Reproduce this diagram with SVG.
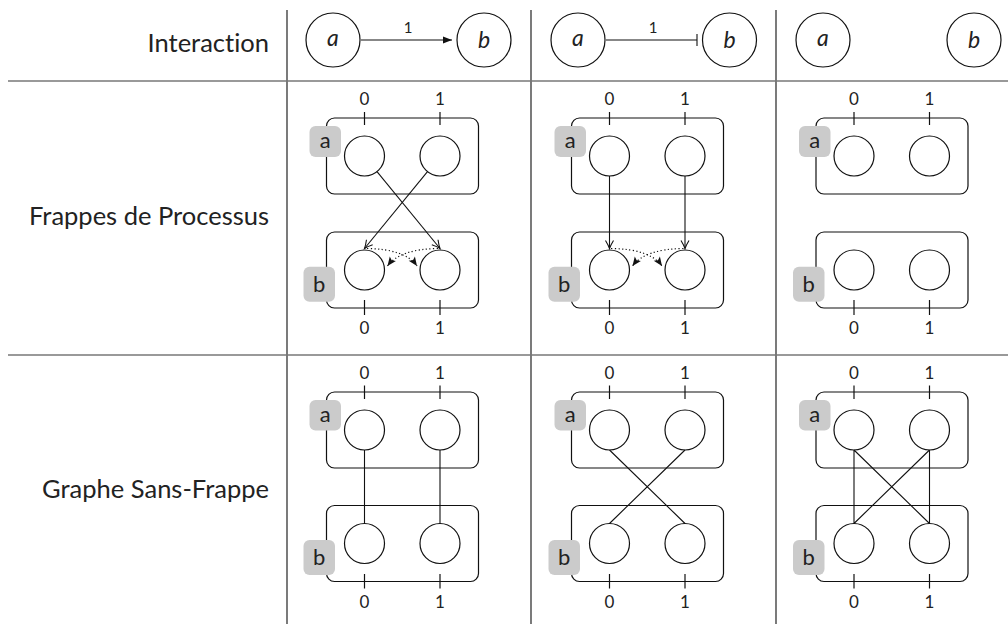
<svg xmlns="http://www.w3.org/2000/svg" width="1008" height="624" viewBox="0 0 1008 624">
<defs>
<style>
.t{font-family:Lato,"DejaVu Sans",sans-serif;fill:#222;font-variant-ligatures:none}
.row{font-size:25.5px;text-anchor:end}
.dig{font-size:17px;text-anchor:middle}
.lab{font-size:22px;text-anchor:middle}
.it{font-size:23px;font-style:italic;text-anchor:middle}
.one{font-size:15px;text-anchor:middle}
.box{fill:none;stroke:#111;stroke-width:1.2}
.st{fill:#fff;stroke:#111;stroke-width:1.2}
.gl{fill:#cbcbcb}
.tk{stroke:#111;stroke-width:1.2}
.e{fill:none;stroke:#111;stroke-width:1.1}
.d{fill:none;stroke:#111;stroke-width:1.2;stroke-dasharray:1.2 2.4}
.vr{stroke:#333;stroke-width:1.3}
.hr{stroke:#777;stroke-width:1.6}
</style>
<marker id="open" markerUnits="userSpaceOnUse" markerWidth="12" markerHeight="12" viewBox="-9 -6 10 12" refX="0" refY="0" orient="auto">
<path d="M-8,-4 Q-3,-1 0,0 Q-3,1 -8,4" fill="none" stroke="#111" stroke-width="1.1"/>
</marker>
<marker id="fill" markerUnits="userSpaceOnUse" markerWidth="12" markerHeight="12" viewBox="-10 -6 11 12" refX="0" refY="0" orient="auto">
<path d="M0,0 L-9,-3.8 L-7,0 L-9,3.8 Z" fill="#111"/>
</marker>
<marker id="tri" markerUnits="userSpaceOnUse" markerWidth="12" markerHeight="12" viewBox="-10 -6 11 12" refX="0" refY="0" orient="auto">
<path d="M0,0 L-9,-3.5 L-9,3.5 Z" fill="#111"/>
</marker>
</defs>
<g id="table">
<line class="vr" x1="287" y1="10" x2="287" y2="624"/>
<line class="vr" x1="531" y1="10" x2="531" y2="624"/>
<line class="vr" x1="776" y1="10" x2="776" y2="624"/>
<line class="hr" x1="8" y1="81" x2="1008" y2="81"/>
<line class="hr" x1="8" y1="355" x2="1008" y2="355"/>
<text class="t row" x="269" y="52">Interaction</text>
<text class="t row" x="269" y="225">Frappes de Processus</text>
<text class="t row" x="269" y="498">Graphe Sans-Frappe</text>
</g>
<g id="header-nodes">
<g id="h1a"><circle class="st" cx="333" cy="40" r="27"/><text class="t it" x="333" y="46">a</text></g>
<g id="h1b"><circle class="st" cx="484" cy="40" r="27"/><text class="t it" x="484" y="48">b</text></g>
<g id="h2a"><circle class="st" cx="578" cy="40" r="27"/><text class="t it" x="578" y="46">a</text></g>
<g id="h2b"><circle class="st" cx="729.5" cy="40" r="27"/><text class="t it" x="729.5" y="48">b</text></g>
<g id="h3a"><circle class="st" cx="823" cy="40" r="27"/><text class="t it" x="823" y="46">a</text></g>
<g id="h3b"><circle class="st" cx="974" cy="40" r="27"/><text class="t it" x="974" y="48">b</text></g>
</g>
<g id="cells">
<g id="fp1">
<text class="t dig" x="364.5" y="104.5">0</text><text class="t dig" x="440" y="104.5">1</text>
<line class="tk" x1="364.5" y1="112" x2="364.5" y2="125"/><line class="tk" x1="440" y1="112" x2="440" y2="125"/>
<rect class="box" x="326.5" y="118" width="152" height="76" rx="8"/>
<circle class="st" cx="364.5" cy="156" r="20"/><circle class="st" cx="440" cy="156" r="20"/>
<rect class="gl" x="309.5" y="126" width="31.5" height="31" rx="6"/><text class="t lab" x="325.2" y="148">a</text>
<rect class="box" x="326.5" y="232" width="152" height="76" rx="8"/>
<circle class="st" cx="364.5" cy="270" r="20"/><circle class="st" cx="440" cy="270" r="20"/>
<rect class="gl" x="303.5" y="266.7" width="31.5" height="35" rx="6"/><text class="t lab" x="319.2" y="291.5">b</text>
<line class="tk" x1="364.5" y1="300" x2="364.5" y2="315"/><line class="tk" x1="440" y1="300" x2="440" y2="315"/>
<text class="t dig" x="364.5" y="333.5">0</text><text class="t dig" x="440" y="333.5">1</text>
</g>
<g id="fp2">
<text class="t dig" x="609.5" y="104.5">0</text><text class="t dig" x="685" y="104.5">1</text>
<line class="tk" x1="609.5" y1="112" x2="609.5" y2="125"/><line class="tk" x1="685" y1="112" x2="685" y2="125"/>
<rect class="box" x="571.5" y="118" width="152" height="76" rx="8"/>
<circle class="st" cx="609.5" cy="156" r="20"/><circle class="st" cx="685" cy="156" r="20"/>
<rect class="gl" x="554.5" y="126" width="31.5" height="31" rx="6"/><text class="t lab" x="570.2" y="148">a</text>
<rect class="box" x="571.5" y="232" width="152" height="76" rx="8"/>
<circle class="st" cx="609.5" cy="270" r="20"/><circle class="st" cx="685" cy="270" r="20"/>
<rect class="gl" x="548.5" y="266.7" width="31.5" height="35" rx="6"/><text class="t lab" x="564.2" y="291.5">b</text>
<line class="tk" x1="609.5" y1="300" x2="609.5" y2="315"/><line class="tk" x1="685" y1="300" x2="685" y2="315"/>
<text class="t dig" x="609.5" y="333.5">0</text><text class="t dig" x="685" y="333.5">1</text>
</g>
<g id="fp3">
<text class="t dig" x="854" y="104.5">0</text><text class="t dig" x="929.5" y="104.5">1</text>
<line class="tk" x1="854" y1="112" x2="854" y2="125"/><line class="tk" x1="929.5" y1="112" x2="929.5" y2="125"/>
<rect class="box" x="816" y="118" width="152" height="76" rx="8"/>
<circle class="st" cx="854" cy="156" r="20"/><circle class="st" cx="929.5" cy="156" r="20"/>
<rect class="gl" x="799" y="126" width="31.5" height="31" rx="6"/><text class="t lab" x="814.7" y="148">a</text>
<rect class="box" x="816" y="232" width="152" height="76" rx="8"/>
<circle class="st" cx="854" cy="270" r="20"/><circle class="st" cx="929.5" cy="270" r="20"/>
<rect class="gl" x="793" y="266.7" width="31.5" height="35" rx="6"/><text class="t lab" x="808.7" y="291.5">b</text>
<line class="tk" x1="854" y1="300" x2="854" y2="315"/><line class="tk" x1="929.5" y1="300" x2="929.5" y2="315"/>
<text class="t dig" x="854" y="333.5">0</text><text class="t dig" x="929.5" y="333.5">1</text>
</g>
<g id="gs1">
<text class="t dig" x="364.5" y="378.5">0</text><text class="t dig" x="440" y="378.5">1</text>
<line class="tk" x1="364.5" y1="385.5" x2="364.5" y2="399"/><line class="tk" x1="440" y1="385.5" x2="440" y2="399"/>
<rect class="box" x="326.5" y="392" width="152" height="76" rx="8"/>
<circle class="st" cx="364.5" cy="430" r="20"/><circle class="st" cx="440" cy="430" r="20"/>
<rect class="gl" x="309.5" y="400" width="31.5" height="30.5" rx="6"/><text class="t lab" x="325.2" y="422">a</text>
<rect class="box" x="326.5" y="505.5" width="152" height="76" rx="8"/>
<circle class="st" cx="364.5" cy="543.5" r="20"/><circle class="st" cx="440" cy="543.5" r="20"/>
<rect class="gl" x="303.5" y="540" width="31.5" height="35" rx="6"/><text class="t lab" x="319.2" y="565">b</text>
<line class="tk" x1="364.5" y1="574" x2="364.5" y2="588.5"/><line class="tk" x1="440" y1="574" x2="440" y2="588.5"/>
<text class="t dig" x="364.5" y="607.5">0</text><text class="t dig" x="440" y="607.5">1</text>
</g>
<g id="gs2">
<text class="t dig" x="609.5" y="378.5">0</text><text class="t dig" x="685" y="378.5">1</text>
<line class="tk" x1="609.5" y1="385.5" x2="609.5" y2="399"/><line class="tk" x1="685" y1="385.5" x2="685" y2="399"/>
<rect class="box" x="571.5" y="392" width="152" height="76" rx="8"/>
<circle class="st" cx="609.5" cy="430" r="20"/><circle class="st" cx="685" cy="430" r="20"/>
<rect class="gl" x="554.5" y="400" width="31.5" height="30.5" rx="6"/><text class="t lab" x="570.2" y="422">a</text>
<rect class="box" x="571.5" y="505.5" width="152" height="76" rx="8"/>
<circle class="st" cx="609.5" cy="543.5" r="20"/><circle class="st" cx="685" cy="543.5" r="20"/>
<rect class="gl" x="548.5" y="540" width="31.5" height="35" rx="6"/><text class="t lab" x="564.2" y="565">b</text>
<line class="tk" x1="609.5" y1="574" x2="609.5" y2="588.5"/><line class="tk" x1="685" y1="574" x2="685" y2="588.5"/>
<text class="t dig" x="609.5" y="607.5">0</text><text class="t dig" x="685" y="607.5">1</text>
</g>
<g id="gs3">
<text class="t dig" x="854" y="378.5">0</text><text class="t dig" x="929.5" y="378.5">1</text>
<line class="tk" x1="854" y1="385.5" x2="854" y2="399"/><line class="tk" x1="929.5" y1="385.5" x2="929.5" y2="399"/>
<rect class="box" x="816" y="392" width="152" height="76" rx="8"/>
<circle class="st" cx="854" cy="430" r="20"/><circle class="st" cx="929.5" cy="430" r="20"/>
<rect class="gl" x="799" y="400" width="31.5" height="30.5" rx="6"/><text class="t lab" x="814.7" y="422">a</text>
<rect class="box" x="816" y="505.5" width="152" height="76" rx="8"/>
<circle class="st" cx="854" cy="543.5" r="20"/><circle class="st" cx="929.5" cy="543.5" r="20"/>
<rect class="gl" x="793" y="540" width="31.5" height="35" rx="6"/><text class="t lab" x="808.7" y="565">b</text>
<line class="tk" x1="854" y1="574" x2="854" y2="588.5"/><line class="tk" x1="929.5" y1="574" x2="929.5" y2="588.5"/>
<text class="t dig" x="854" y="607.5">0</text><text class="t dig" x="929.5" y="607.5">1</text>
</g>
</g>
<g id="connectors">
<path class="e" d="M361,40 H452" marker-end="url(#tri)"/>
<text class="t one" x="408" y="33">1</text>
<path class="e" d="M606,40 H697 M697,34 V46"/>
<text class="t one" x="653" y="33">1</text>
<path class="e" d="M377,171.6 L440,248.5" marker-end="url(#open)"/>
<path class="e" d="M427.5,171.6 L364.5,248.5" marker-end="url(#open)"/>
<path class="d" d="M367,248.5 Q405,249 417,266" marker-end="url(#fill)"/>
<path class="d" d="M438,248.5 Q400,249 387.5,266" marker-end="url(#fill)"/>
<path class="e" d="M609.5,176 V248.5" marker-end="url(#open)"/>
<path class="e" d="M685,176 V248.5" marker-end="url(#open)"/>
<path class="d" d="M611,248.5 Q650,249 662,266" marker-end="url(#fill)"/>
<path class="d" d="M683.5,248.5 Q645,249 632.5,266" marker-end="url(#fill)"/>
<path class="e" d="M364.5,450 V523.5 M440,450 V523.5"/>
<path class="e" d="M609.5,450 L685,523.5 M685,450 L609.5,523.5"/>
<path class="e" d="M854,450 V523.5 M929.5,450 V523.5 M854,450 L929.5,523.5 M929.5,450 L854,523.5"/>
</g>
</svg>
